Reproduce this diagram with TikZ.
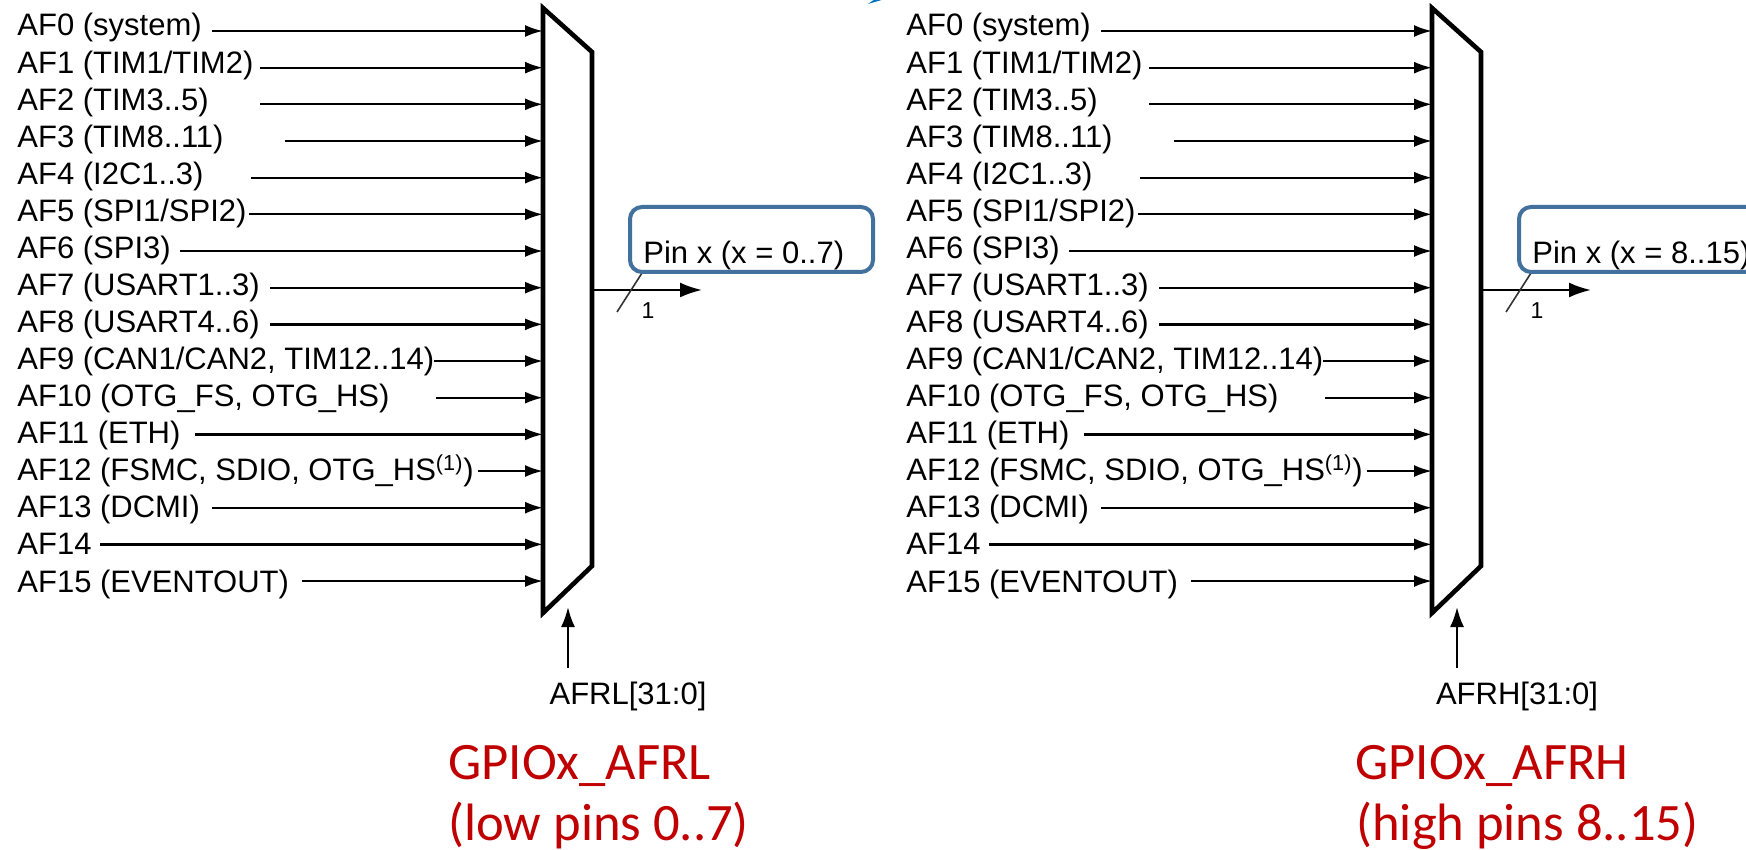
\documentclass[tikz,border=0pt]{standalone}
\usepackage{fontspec}
\setmainfont{Liberation Sans}
\newfontfamily\calibfont{Carlito}
\usetikzlibrary{arrows.meta}
\definecolor{boxblue}{RGB}{65,113,156}
\definecolor{labred}{RGB}{192,0,0}
\definecolor{topblue}{RGB}{0,112,192}
\tikzset{
  afin/.style={-{Latex[length=9pt,width=6pt]}, line width=1.15pt},
  outarrow/.style={-{Latex[length=11pt,width=7.5pt]}, line width=1.15pt},
  selarrow/.style={-{Latex[length=10pt,width=7pt]}, line width=1.15pt},
  muxbox/.style={line width=2.3pt, line join=miter},
  aflabel/.style={anchor=base west, inner sep=0pt},
  pinbox/.style={draw=boxblue, line width=2pt, rounded corners=6pt},
  slashline/.style={line width=0.8pt, draw=black!80},
  redlabel/.style={anchor=base west, inner sep=0pt, text=labred, font=\calibfont\fontsize{26.3}{31}\selectfont},
}
\begin{document}
\begin{tikzpicture}[x=0.5pt,y=-0.5pt,font=\fontsize{15.5}{18}\selectfont]
\useasboundingbox (0,0) rectangle (1746,850);
\fill[white] (0,0) rectangle (1746,850);
% blue fragment at the top edge
\fill[topblue] (868,4) -- (885,-1) -- (875,-1) -- cycle;
\foreach \p/\dx/\sel/\pin in {L/0/AFRL/{0..7}, H/889/AFRH/{8..15}}{
\begin{scope}[shift={(\dx,0)}]
  \foreach \n/\sx/\txt in {
    0/212/{AF0 (system)},
    1/260/{AF1 (TIM1/TIM2)},
    2/260/{AF2 (TIM3..5)},
    3/285/{AF3 (TIM8..11)},
    4/251/{AF4 (I2C1..3)},
    5/249/{AF5 (SPI1/SPI2)},
    6/180/{AF6 (SPI3)},
    7/270/{AF7 (USART1..3)},
    8/270/{AF8 (USART4..6)},
    9/434/{AF9 (CAN1/CAN2, TIM12..14)},
    10/436/{AF10 (OTG\_FS, OTG\_HS)},
    11/195/{AF11 (ETH)},
    12/478/{AF12 (FSMC, SDIO, OTG\_HS\textsuperscript{(1)})},
    13/212/{AF13 (DCMI)},
    14/100/{AF14},
    15/302/{AF15 (EVENTOUT)}}{
    \node[aflabel] (\p t\n) at (17,{36+37.07*\n}) {\txt};
    \coordinate (\p s\n) at (\sx,{31+36.67*\n});
    \coordinate (\p e\n) at (543,{31+36.67*\n});
    \draw[afin] (\p s\n) -- (\p e\n);
  }
  % multiplexer
  \draw[muxbox] (543,8) -- (592,52) -- (592,566) -- (543,613) -- cycle;
  % output
  \coordinate (\p out) at (592,290);
  \coordinate (\p tip) at (702,290);
  \draw[outarrow] (\p out) -- (\p tip);
  \coordinate (\p sl1) at (617,312);
  \coordinate (\p sl2) at (642,273);
  \draw[slashline] (\p sl1) -- (\p sl2);
  \node[inner sep=0pt, font=\fontsize{11.5}{13}\selectfont] (\p one) at (648,311) {1};
  % pin box
  \draw[pinbox] (630,207) rectangle (873,272);
  \node[aflabel] (\p pin) at (643,264) {Pin x (x = \pin)};
  % selector
  \node[anchor=base, inner sep=0pt] (\p sel) at (628,704) {\sel[31:0]};
  \coordinate (\p selb) at (568,668);
  \coordinate (\p selt) at (568,607);
  \draw[selarrow] (\p selb) -- (\p selt);
\end{scope}
}
\node[redlabel] (redL1) at (448,779) {GPIOx\_AFRL};
\node[redlabel] (redL2) at (448,840) {(low pins 0..7)};
\node[redlabel] (redH1) at (1355,779) {GPIOx\_AFRH};
\node[redlabel] (redH2) at (1356,840) {(high pins 8..15)};
\end{tikzpicture}
\end{document}
